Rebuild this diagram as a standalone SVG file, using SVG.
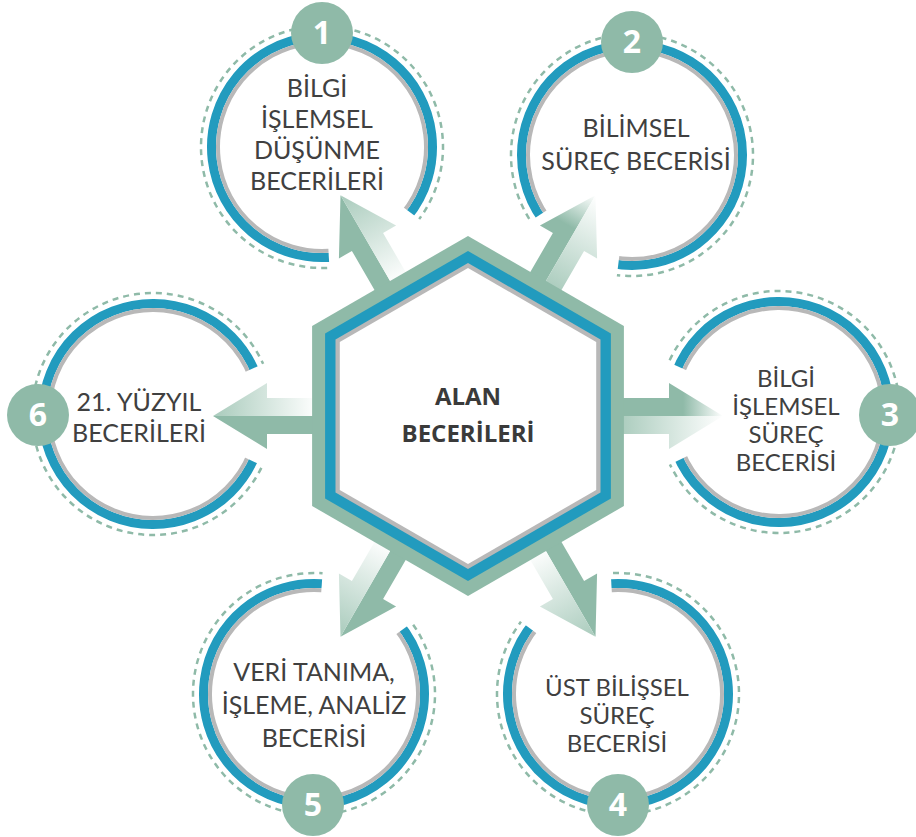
<svg xmlns="http://www.w3.org/2000/svg" width="916" height="837" viewBox="0 0 916 837">
<defs>
<style>
.lbl{font-family:Lato,"Open Sans","Liberation Sans",sans-serif;font-size:25px;fill:#404040;text-anchor:middle}
.sm{font-size:24px}
.ttl{font-family:"Open Sans","Liberation Sans",sans-serif;font-size:24px;font-weight:bold;fill:#3a3a3a;text-anchor:middle}
.num{font-family:"Open Sans","Liberation Sans",sans-serif;font-size:32px;font-weight:bold;fill:#ffffff;text-anchor:middle}
.badge{fill:#8fbaa8}
.dash{fill:none;stroke:#8fbaa8;stroke-width:2.5;stroke-dasharray:6 5}
.blue{fill:none;stroke:#229bbe;stroke-width:9}
.gray{fill:none;stroke:#b8b8b8;stroke-width:4}
.solid{fill:#8fbaa8}
</style>
<linearGradient id="solidFade" x1="0" y1="0" x2="1" y2="0">
<stop offset="0" stop-color="#8fbaa8"/><stop offset="0.62" stop-color="#8fbaa8"/><stop offset="1" stop-color="#ffffff"/>
</linearGradient>
<linearGradient id="lightOut" x1="0" y1="0" x2="1" y2="0">
<stop offset="0" stop-color="#a9cbbc"/><stop offset="1" stop-color="#ffffff"/>
</linearGradient>
<linearGradient id="lightIn" x1="0" y1="0" x2="1" y2="0">
<stop offset="0" stop-color="#ffffff"/><stop offset="1" stop-color="#a9cbbc"/>
</linearGradient>
<mask id="gap" maskUnits="userSpaceOnUse" maskContentUnits="userSpaceOnUse" x="-140" y="-140" width="280" height="280">
<rect x="-140" y="-140" width="280" height="280" fill="#fff"/>
<polygon points="0,0 200,-93 200,93" fill="#000"/>
</mask>
<g id="ring">
<circle r="121" class="dash"/>
<circle r="110.5" class="blue"/>
<circle r="104" class="gray"/>
</g>
</defs>
<rect width="916" height="837" fill="#ffffff"/>

<g id="connectors">
<g transform="translate(468,416) rotate(0)"><polygon points="150,0 150,-18 201,-18 201,-33 255,0" fill="url(#solidFade)"/><polygon points="150,0 150,18 201,18 201,33 255,0" fill="url(#lightOut)"/></g>
<g transform="translate(468,416) rotate(-60)"><polygon points="150,0 150,-18 201,-18 201,-33 255,0" fill="url(#solidFade)"/><polygon points="150,0 150,18 201,18 201,33 255,0" fill="url(#lightOut)"/></g>
<g transform="translate(468,416) rotate(-120)"><polygon points="150,0 150,-18 201,-18 201,-33 255,0" class="solid"/><polygon points="150,0 150,18 201,18 201,33 255,0" fill="url(#lightIn)"/></g>
<g transform="translate(468,416) rotate(180)"><polygon points="150,0 150,-18 201,-18 201,-33 255,0" class="solid"/><polygon points="150,0 150,18 201,18 201,33 255,0" fill="url(#lightIn)"/></g>
<g transform="translate(468,416) rotate(120)"><polygon points="150,0 150,-18 201,-18 201,-33 255,0" class="solid"/><polygon points="150,0 150,18 201,18 201,33 255,0" fill="url(#lightIn)"/></g>
<g transform="translate(468,416) rotate(60)"><polygon points="150,0 150,-18 201,-18 201,-33 255,0" class="solid"/><polygon points="150,0 150,18 201,18 201,33 255,0" fill="url(#lightIn)"/></g>
</g>

<g id="node-center">
<polygon points="468,236 623.9,326 623.9,506 468,596 312.1,506 312.1,326" fill="#8fbaa8"/>
<polygon points="468,251 610.9,333.5 610.9,498.5 468,581 325.1,498.5 325.1,333.5" fill="#229bbe"/>
<polygon points="468,263 600.5,339.5 600.5,492.5 468,569 335.5,492.5 335.5,339.5" fill="#b8b8b8"/>
<polygon points="468,268 596.2,342 596.2,490 468,564 339.8,490 339.8,342" fill="#ffffff"/>
<text class="ttl" x="468" y="405">ALAN</text>
<text class="ttl" x="468" y="442">BECERİLERİ</text>
</g>

<g id="node-1">
<g transform="translate(322,147) rotate(61.5)" mask="url(#gap)"><use href="#ring"/></g>
<circle cx="322" cy="33" r="31" class="badge"/>
<text class="num" x="322" y="44">1</text>
<text class="lbl" x="317" y="97">BİLGİ</text>
<text class="lbl" x="317" y="128">İŞLEMSEL</text>
<text class="lbl" x="317" y="159">DÜŞÜNME</text>
<text class="lbl" x="317" y="190">BECERİLERİ</text>
</g>

<g id="node-2">
<g transform="translate(632,155) rotate(122.1)" mask="url(#gap)"><use href="#ring"/></g>
<circle cx="632" cy="42" r="31" class="badge"/>
<text class="num" x="632" y="53">2</text>
<text class="lbl" x="636" y="137">BİLİMSEL</text>
<text class="lbl" x="636" y="170">SÜREÇ BECERİSİ</text>
</g>

<g id="node-3">
<g transform="translate(779,412) rotate(179.3)" mask="url(#gap)"><use href="#ring"/></g>
<circle cx="890" cy="415" r="31" class="badge"/>
<text class="num" x="890" y="426">3</text>
<text class="lbl sm" x="786" y="387">BİLGİ</text>
<text class="lbl sm" x="786" y="415">İŞLEMSEL</text>
<text class="lbl sm" x="786" y="443">SÜREÇ</text>
<text class="lbl sm" x="786" y="471">BECERİSİ</text>
</g>

<g id="node-4">
<g transform="translate(618,694) rotate(-118.4)" mask="url(#gap)"><use href="#ring"/></g>
<circle cx="618" cy="805" r="31" class="badge"/>
<text class="num" x="618" y="816">4</text>
<text class="lbl sm" x="617" y="696">ÜST BİLİŞSEL</text>
<text class="lbl sm" x="617" y="724">SÜREÇ</text>
<text class="lbl sm" x="617" y="752">BECERİSİ</text>
</g>

<g id="node-5">
<g transform="translate(314,694) rotate(-61)" mask="url(#gap)"><use href="#ring"/></g>
<circle cx="313" cy="805" r="31" class="badge"/>
<text class="num" x="313" y="816">5</text>
<text class="lbl" x="314" y="681">VERİ TANIMA,</text>
<text class="lbl" x="314" y="714">İŞLEME, ANALİZ</text>
<text class="lbl" x="314" y="747">BECERİSİ</text>
</g>

<g id="node-6">
<g transform="translate(153,414) rotate(0.4)" mask="url(#gap)"><use href="#ring"/></g>
<circle cx="38" cy="415" r="31" class="badge"/>
<text class="num" x="38" y="426">6</text>
<text class="lbl" x="139" y="411">21. YÜZYIL</text>
<text class="lbl" x="139" y="442">BECERİLERİ</text>
</g>
</svg>
